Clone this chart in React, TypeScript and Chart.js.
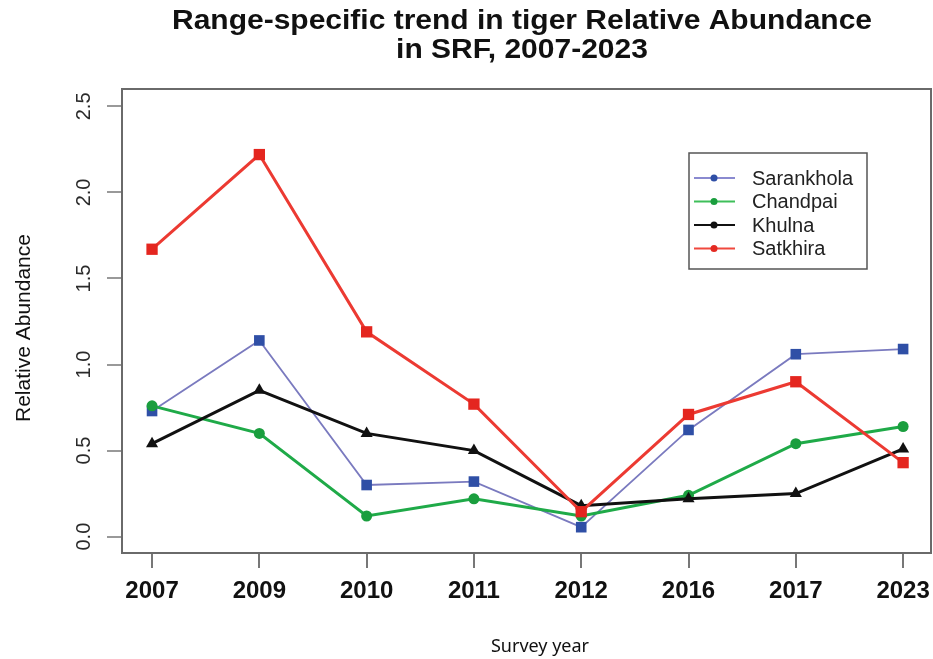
import React, { useEffect, useRef } from "react";
import { Chart, registerables } from "chart.js";

Chart.register(...registerables);

const years = ["2007", "2009", "2010", "2011", "2012", "2016", "2017", "2023"];
const sarankhola = [0.73, 1.14, 0.3, 0.32, 0.055, 0.62, 1.06, 1.09];
const chandpai = [0.76, 0.6, 0.12, 0.22, 0.12, 0.24, 0.54, 0.64];
const khulna = [0.54, 0.85, 0.6, 0.5, 0.18, 0.22, 0.25, 0.51];
const satkhira = [1.67, 2.22, 1.19, 0.77, 0.145, 0.71, 0.9, 0.43];
const yTicks = [0, 0.5, 1.0, 1.5, 2.0, 2.5];
const titleLines = ["Range-specific trend in tiger Relative Abundance", "in SRF, 2007-2023"];
const xTitle = "Survey year";
const yTitle = "Relative Abundance";

const SANS = "'Liberation Sans', Arial, sans-serif";

const legendItems = [
  { label: "Sarankhola", line: "#8a8ad0", dot: "#2f4fa6" },
  { label: "Chandpai", line: "#3fbf5a", dot: "#1a9e3e" },
  { label: "Khulna", line: "#111111", dot: "#111111" },
  { label: "Satkhira", line: "#f0483e", dot: "#e42a22" },
];

const toPts = (arr: number[]) => arr.map((v, i) => ({ x: i, y: v }));

const decorPlugin = {
  id: "decor",
  afterDraw(chart: any) {
    const ctx = chart.ctx as CanvasRenderingContext2D;
    const a = chart.chartArea;
    const ys = chart.scales.y;
    ctx.save();
    // plot box
    ctx.strokeStyle = "#6a6a6a";
    ctx.lineWidth = 2;
    ctx.strokeRect(a.left, a.top, a.right - a.left, a.bottom - a.top);

    // rotated y tick labels
    ctx.fillStyle = "#2a2a2a";
    ctx.font = `20px ${SANS}`;
    ctx.textAlign = "center";
    ctx.textBaseline = "middle";
    ys.ticks.forEach((t: any) => {
      const py = ys.getPixelForValue(t.value);
      ctx.save();
      ctx.translate(84, py);
      ctx.rotate(-Math.PI / 2);
      ctx.fillText(Number(t.value).toFixed(1), 0, 0);
      ctx.restore();
    });

    // y title
    ctx.fillStyle = "#111";
    ctx.font = `21px ${SANS}`;
    ctx.save();
    ctx.translate(24, 328);
    ctx.rotate(-Math.PI / 2);
    ctx.fillText(yTitle, 0, 0);
    ctx.restore();

    // x title
    ctx.font = `18px 'Noto Sans', 'Open Sans', sans-serif`;
    ctx.fillStyle = "#111";
    ctx.fillText(xTitle, 540, 647);

    // title
    ctx.font = `bold 27px ${SANS}`;
    const w0 = ctx.measureText(titleLines[0]).width;
    const sx = 700 / w0;
    titleLines.forEach((line, i) => {
      ctx.save();
      ctx.translate(522, 22 + i * 29);
      ctx.scale(sx, 1);
      ctx.fillText(line, 0, 0);
      ctx.restore();
    });

    // legend
    const lx = 689, ly = 153, lw = 178, lh = 116;
    ctx.fillStyle = "#fff";
    ctx.fillRect(lx, ly, lw, lh);
    ctx.strokeStyle = "#555";
    ctx.lineWidth = 1.5;
    ctx.strokeRect(lx, ly, lw, lh);
    ctx.font = `20px ${SANS}`;
    ctx.textAlign = "left";
    legendItems.forEach((it, i) => {
      const y = 178 + i * 23.5;
      ctx.strokeStyle = it.line;
      ctx.lineWidth = 2;
      ctx.beginPath();
      ctx.moveTo(694, y);
      ctx.lineTo(735, y);
      ctx.stroke();
      ctx.fillStyle = it.dot;
      ctx.beginPath();
      ctx.arc(714, y, 3.5, 0, Math.PI * 2);
      ctx.fill();
      ctx.fillStyle = "#222";
      ctx.fillText(it.label, 752, y + 1);
    });
    ctx.restore();
  },
};

export default function App() {
  const ref = useRef<HTMLCanvasElement | null>(null);
  useEffect(() => {
    if (!ref.current) return;
    const chart = new Chart(ref.current, {
      type: "line",
      data: {
        datasets: [
          {
            label: "Satkhira",
            data: toPts(satkhira),
            borderColor: "#ec3a32",
            backgroundColor: "#e4261f",
            borderWidth: 3,
            pointStyle: "rect",
            pointRadius: 8,
            pointBorderWidth: 0,
            order: 0,
          },
          {
            label: "Khulna",
            data: toPts(khulna),
            borderColor: "#111111",
            backgroundColor: "#111111",
            borderWidth: 3,
            pointStyle: "triangle",
            pointRadius: 7,
            pointBorderWidth: 0,
            order: 1,
          },
          {
            label: "Chandpai",
            data: toPts(chandpai),
            borderColor: "#1faa48",
            backgroundColor: "#1a9e3e",
            borderWidth: 3,
            pointStyle: "circle",
            pointRadius: 5.5,
            pointBorderWidth: 0,
            order: 2,
          },
          {
            label: "Sarankhola",
            data: toPts(sarankhola),
            borderColor: "#7a7abf",
            backgroundColor: "#2f4fa6",
            borderWidth: 1.8,
            pointStyle: "rect",
            pointRadius: 7.5,
            pointBorderWidth: 0,
            order: 3,
          },
        ],
      },
      options: {
        responsive: false,
        animation: false,
        devicePixelRatio: 1,
        layout: { autoPadding: false, padding: { top: 89, right: 2, left: 0, bottom: 0 } },
        plugins: { legend: { display: false }, tooltip: { enabled: false }, title: { display: false } },
        scales: {
          x: {
            type: "linear",
            min: -0.28,
            max: 7.26,
            afterBuildTicks: (s: any) => {
              s.ticks = years.map((_, i) => ({ value: i }));
            },
            afterFit: (s: any) => {
              s.height = 106;
              s.paddingLeft = 0;
              s.paddingRight = 0;
            },
            border: { display: false },
            grid: { drawOnChartArea: false, drawTicks: true, tickLength: 15, color: "#777", lineWidth: 2 },
            ticks: {
              autoSkip: false,
              maxRotation: 0,
              padding: 9,
              color: "#111",
              font: { family: SANS, size: 24, weight: "bold" },
              callback: (v: any) => years[v] ?? "",
            },
          },
          y: {
            type: "linear",
            min: -0.095,
            max: 2.601,
            afterBuildTicks: (s: any) => {
              s.ticks = yTicks.map((v) => ({ value: v }));
            },
            afterFit: (s: any) => {
              s.width = 122;
              s.paddingTop = 0;
              s.paddingBottom = 0;
            },
            border: { display: false },
            grid: { drawOnChartArea: false, drawTicks: true, tickLength: 15, color: "#999", lineWidth: 2 },
            ticks: { color: "transparent", font: { size: 20 } },
          },
        },
      },
      plugins: [decorPlugin],
    } as any);
    return () => chart.destroy();
  }, []);
  return (
    <div style={{ position: "fixed", left: 0, top: 0, width: 933, height: 659, background: "#fff" }}>
      <canvas ref={ref} width={933} height={659} />
    </div>
  );
}
